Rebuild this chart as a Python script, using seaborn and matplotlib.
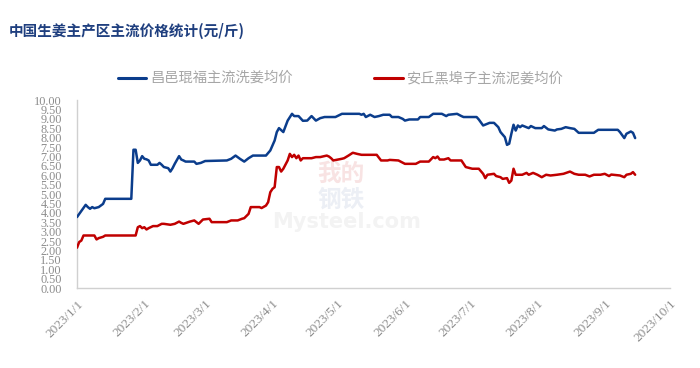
import matplotlib
matplotlib.use("Agg")
import matplotlib.pyplot as plt
import pandas as pd
import seaborn as sns

# 昌邑琨福主流洗姜均价 (元/斤)
blue_dates = [
    "01-01", "01-05", "01-06", "01-07", "01-08", "01-09", "01-11", "01-13", "01-14", "01-26",
    "01-27", "01-28", "01-29", "01-30", "01-31", "02-01", "02-02", "02-03", "02-04", "02-07",
    "02-08", "02-09", "02-10", "02-12", "02-13", "02-14", "02-15", "02-17", "02-18", "02-19",
    "02-20", "02-24", "02-25", "02-27", "03-01", "03-11", "03-13", "03-15", "03-17", "03-19",
    "03-21", "03-23", "03-29", "03-31", "04-02", "04-03", "04-04", "04-06", "04-08", "04-10",
    "04-11", "04-13", "04-15", "04-17", "04-19", "04-21", "04-23", "04-25", "04-30", "05-03",
    "05-11", "05-12", "05-13", "05-14", "05-16", "05-18", "05-20", "05-22", "05-25", "05-26",
    "05-29", "05-31", "06-01", "06-03", "06-07", "06-08", "06-12", "06-14", "06-18", "06-20",
    "06-21", "06-25", "06-27", "06-28", "07-04", "07-05", "07-07", "07-10", "07-12", "07-14",
    "07-15", "07-17", "07-18", "07-19", "07-20", "07-21", "07-22", "07-23", "07-24", "07-25",
    "07-28", "07-29", "07-31", "08-03", "08-04", "08-06", "08-09", "08-10", "08-12", "08-14",
    "08-16", "08-18", "08-20", "08-27", "08-29", "09-07", "09-08", "09-10", "09-11", "09-13",
    "09-14", "09-15",
]
blue_values = [
    3.78, 4.43, 4.31, 4.22, 4.31, 4.25, 4.31, 4.48, 4.75, 4.75,
    7.36, 7.36, 6.66, 6.79, 7.02, 6.88, 6.85, 6.79, 6.56, 6.56,
    6.66, 6.56, 6.44, 6.38, 6.20, 6.38, 6.61, 7.02, 6.84, 6.79,
    6.73, 6.73, 6.61, 6.66, 6.76, 6.79, 6.88, 7.05, 6.88, 6.73,
    6.91, 7.05, 7.05, 7.32, 7.85, 8.30, 8.51, 8.30, 8.91, 9.27,
    9.15, 9.15, 8.90, 8.91, 9.15, 8.91, 9.04, 9.10, 9.10, 9.27,
    9.27, 9.22, 9.27, 9.10, 9.22, 9.10, 9.15, 9.22, 9.22, 9.10,
    9.10, 9.00, 8.91, 8.97, 8.97, 9.10, 9.10, 9.27, 9.27, 9.15,
    9.22, 9.27, 9.15, 9.10, 9.10, 8.97, 8.65, 8.79, 8.79, 8.56,
    8.30, 8.03, 7.62, 7.68, 8.21, 8.69, 8.38, 8.65, 8.56, 8.65,
    8.51, 8.62, 8.51, 8.51, 8.62, 8.44, 8.38, 8.44, 8.47, 8.56,
    8.51, 8.47, 8.26, 8.26, 8.42, 8.42, 8.30, 7.98, 8.21, 8.33,
    8.26, 7.98,
]

# 安丘黑埠子主流泥姜均价 (元/斤)
red_dates = [
    "01-01", "01-02", "01-03", "01-04", "01-09", "01-10", "01-11", "01-13", "01-14", "01-28",
    "01-29", "01-30", "01-31", "02-01", "02-02", "02-03", "02-05", "02-07", "02-09", "02-10",
    "02-13", "02-15", "02-17", "02-18", "02-19", "02-22", "02-24", "02-25", "02-26", "02-28",
    "03-03", "03-04", "03-11", "03-13", "03-16", "03-18", "03-19", "03-21", "03-22", "03-26",
    "03-27", "03-29", "03-30", "03-31", "04-01", "04-02", "04-03", "04-04", "04-05", "04-06",
    "04-08", "04-09", "04-10", "04-11", "04-12", "04-13", "04-14", "04-15", "04-19", "04-21",
    "04-23", "04-26", "04-27", "04-28", "04-29", "05-03", "05-04", "05-06", "05-08", "05-10",
    "05-12", "05-19", "05-21", "05-24", "05-25", "05-29", "06-01", "06-06", "06-08", "06-12",
    "06-14", "06-15", "06-16", "06-17", "06-19", "06-21", "06-22", "06-27", "06-29", "07-02",
    "07-05", "07-07", "07-08", "07-09", "07-12", "07-13", "07-15", "07-16", "07-18", "07-19",
    "07-20", "07-21", "07-22", "07-25", "07-27", "07-28", "07-30", "08-01", "08-03", "08-05",
    "08-07", "08-10", "08-13", "08-16", "08-18", "08-20", "08-23", "08-25", "08-27", "08-30",
    "09-01", "09-03", "09-04", "09-08", "09-10", "09-11", "09-13", "09-14", "09-15",
]
red_values = [
    2.15, 2.45, 2.53, 2.80, 2.80, 2.59, 2.66, 2.73, 2.80, 2.80,
    3.24, 3.30, 3.19, 3.24, 3.12, 3.19, 3.30, 3.30, 3.42, 3.42,
    3.37, 3.42, 3.54, 3.47, 3.42, 3.54, 3.60, 3.51, 3.42, 3.65,
    3.69, 3.51, 3.51, 3.60, 3.60, 3.69, 3.72, 3.95, 4.31, 4.31,
    4.26, 4.39, 4.57, 5.10, 5.28, 5.37, 6.44, 6.44, 6.20, 6.35,
    6.79, 7.14, 6.97, 7.09, 6.91, 7.05, 6.79, 6.91, 6.91, 6.97,
    6.97, 7.05, 7.00, 6.91, 6.79, 6.88, 6.91, 7.05, 7.20, 7.14,
    7.09, 7.09, 6.79, 6.79, 6.82, 6.79, 6.61, 6.61, 6.73, 6.73,
    6.97, 6.91, 7.00, 6.84, 6.84, 6.91, 6.79, 6.79, 6.44, 6.35,
    6.35, 6.08, 5.85, 6.03, 6.08, 5.96, 5.90, 5.81, 5.85, 5.60,
    5.72, 6.35, 6.03, 6.03, 6.13, 6.03, 6.13, 6.03, 5.90, 6.03,
    5.99, 6.03, 6.08, 6.20, 6.08, 6.03, 6.03, 5.94, 6.03, 6.03,
    6.08, 5.96, 6.04, 5.99, 5.90, 6.03, 6.08, 6.17, 6.03,
]

series_names = ["昌邑琨福主流洗姜均价", "安丘黑埠子主流泥姜均价"]
series_colors = ["#0B3D8C", "#C00000"]
tick_months = ["2023-01-01", "2023-02-01", "2023-03-01", "2023-04-01", "2023-05-01",
               "2023-06-01", "2023-07-01", "2023-08-01", "2023-09-01", "2023-10-01"]
tick_labels = ["2023/1/1", "2023/2/1", "2023/3/1", "2023/4/1", "2023/5/1",
               "2023/6/1", "2023/7/1", "2023/8/1", "2023/9/1", "2023/10/1"]

df = pd.concat([
    pd.DataFrame({"date": pd.to_datetime(["2023-" + d for d in blue_dates]),
                  "price": blue_values, "series": series_names[0]}),
    pd.DataFrame({"date": pd.to_datetime(["2023-" + d for d in red_dates]),
                  "price": red_values, "series": series_names[1]}),
])

sns.set_style("white")
plt.rcParams["font.family"] = ["Noto Sans CJK SC", "DejaVu Sans"]

fig = plt.figure(figsize=(7, 3.68), dpi=100)
ax = fig.add_axes([0.11, 0.217, 0.847, 0.511])

sns.lineplot(data=df, x="date", y="price", hue="series", palette=series_colors,
             linewidth=1.8, ax=ax, legend=False, zorder=3)

ax.set_xlim(pd.Timestamp("2023-01-01"), pd.Timestamp("2023-10-01"))
ax.set_ylim(0, 10)
ax.set_yticks([i * 0.5 for i in range(21)])
ax.set_yticklabels([f"{i * 0.5:.2f}" for i in range(21)])
ax.set_xticks(pd.to_datetime(tick_months))
ax.set_xticklabels(tick_labels, rotation=45, ha="right", rotation_mode="anchor")
ax.set_xlabel("")
ax.set_ylabel("")

grey = "#8c8c8c"
for lab in ax.get_yticklabels():
    lab.set_family("Liberation Serif")
    lab.set_color(grey)
    lab.set_fontsize(8.8)
for lab in ax.get_xticklabels():
    lab.set_family("Liberation Serif")
    lab.set_color(grey)
    lab.set_fontsize(9.5)
ax.tick_params(axis="y", length=0, pad=11)
ax.tick_params(axis="x", length=4, width=0.8, color="#d0d0d0", pad=3, direction="out")
for side in ["top", "right"]:
    ax.spines[side].set_visible(False)
for side in ["left", "bottom"]:
    ax.spines[side].set_color("#d0d0d0")
    ax.spines[side].set_linewidth(1)

# faint watermark
ax.text(0.445, 0.61, "我的", transform=ax.transAxes, fontsize=17, color="#f8e3e3",
        fontweight="bold", ha="center", va="center", zorder=1)
ax.text(0.445, 0.47, "钢铁", transform=ax.transAxes, fontsize=17, color="#eceff5",
        fontweight="bold", ha="center", va="center", zorder=1)
ax.text(0.455, 0.35, "Mysteel.com", transform=ax.transAxes, fontsize=15, color="#f3f3f3",
        fontweight="bold", ha="center", va="center", zorder=1, family="DejaVu Sans")

# title
fig.text(0.012, 0.915, "中国生姜主产区主流价格统计(元/斤)", fontsize=10.5, fontweight="bold",
         color="#1F3F7F", ha="left", va="center")

# legend drawn by hand to match spacing
leg_y = 0.788
for x0, name, col in [(0.168, series_names[0], series_colors[0]),
                      (0.534, series_names[1], series_colors[1])]:
    fig.add_artist(plt.Line2D([x0, x0 + 0.041], [leg_y, leg_y], color=col, linewidth=2.2,
                              transform=fig.transFigure))
    fig.text(x0 + 0.046, leg_y, name, fontsize=10.3, color="#a6a6a6", ha="left", va="center")

fig.savefig("out.png", dpi=100)
